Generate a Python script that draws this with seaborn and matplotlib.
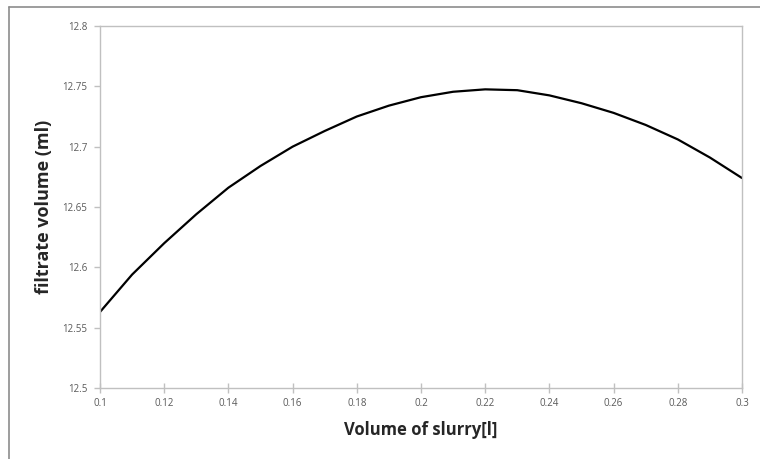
import numpy as np
import pandas as pd
import matplotlib
matplotlib.use('Agg')
import matplotlib.pyplot as plt
import seaborn as sns
from matplotlib.lines import Line2D

# valores
slurry = [0.10, 0.11, 0.12, 0.13, 0.14, 0.15, 0.16, 0.17, 0.18, 0.19, 0.20,
          0.21, 0.22, 0.23, 0.24, 0.25, 0.26, 0.27, 0.28, 0.29, 0.30]
filtrate = [12.563, 12.594, 12.620, 12.644, 12.666, 12.684, 12.700, 12.713, 12.725, 12.734, 12.741,
            12.7455, 12.7475, 12.7468, 12.7425, 12.736, 12.728, 12.718, 12.706, 12.691, 12.674]
xticks = [0.1, 0.12, 0.14, 0.16, 0.18, 0.2, 0.22, 0.24, 0.26, 0.28, 0.3]
yticks = [12.5, 12.55, 12.6, 12.65, 12.7, 12.75, 12.8]

df = pd.DataFrame({'slurry': slurry, 'filtrate': filtrate})

sns.set_style('white')
plt.rcParams['font.family'] = ['Open Sans', 'DejaVu Sans']

fig = plt.figure(figsize=(7.6, 4.59), dpi=100)
ax = fig.add_axes([100/760, 1-388/459, 642/760, 362/459])

sns.lineplot(data=df, x='slurry', y='filtrate', color='black', linewidth=1.6, ax=ax)

ax.set_xlim(0.1, 0.3)
ax.set_ylim(12.5, 12.8)
ax.set_xticks(xticks)
ax.set_xticklabels([f'{t:g}' for t in xticks])
ax.set_yticks(yticks)
ax.set_yticklabels([f'{t:g}' for t in yticks])

for s in ax.spines.values():
    s.set_color('#c0c0c0')
    s.set_linewidth(1.0)

ax.tick_params(axis='x', direction='inout', length=7, width=1, color='#c0c0c0',
               labelsize=7, labelcolor='#595959', pad=4)
ax.tick_params(axis='y', direction='out', length=4, width=1, color='#c0c0c0',
               labelsize=7, labelcolor='#595959', pad=5)
ax.tick_params(left=True, bottom=True)

ax.set_xlabel('Volume of slurry[l]', fontsize=12, fontweight='bold', labelpad=8)
ax.set_ylabel('filtrate volume (ml)', fontsize=13, fontweight='bold', labelpad=7)

# marco exterior (solo arriba e izquierda visibles)
fig.add_artist(Line2D([9/760, 1], [1-7/459, 1-7/459], transform=fig.transFigure,
                      color='#8c8c8c', linewidth=1.2))
fig.add_artist(Line2D([9/760, 9/760], [0, 1-7/459], transform=fig.transFigure,
                      color='#8c8c8c', linewidth=1.2))

plt.savefig('out.png', dpi=100)
